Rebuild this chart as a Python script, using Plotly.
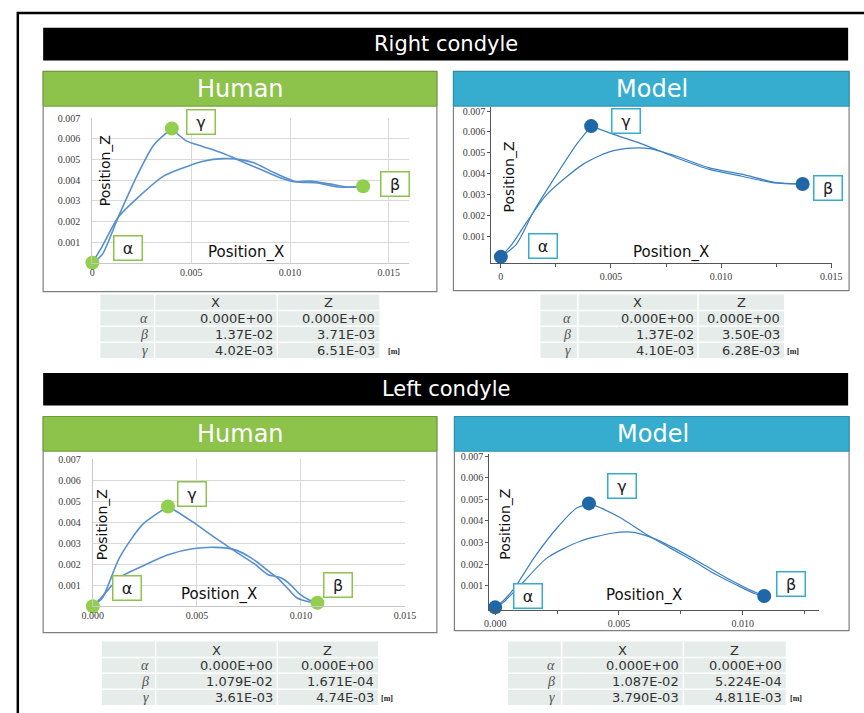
import plotly.graph_objects as go

W, H = 864, 713


def px(x):
    return x / W


def py(y):
    return 1 - y / H


# ---------------- condyle trajectories (metres) ----------------
# Right condyle, human: rise alpha->gamma, fall gamma->beta, return beta->alpha
rc_h_rise_x = [0.0, 0.0005, 0.0013, 0.0023, 0.0031, 0.00402]
rc_h_rise_z = [0.0, 0.0004, 0.0022, 0.0043, 0.0057, 0.00651]
rc_h_fall_x = [0.00402, 0.00475, 0.00557, 0.00656, 0.00754, 0.00852, 0.0095, 0.01017, 0.01099, 0.01214, 0.01296, 0.0137]
rc_h_fall_z = [0.00651, 0.00591, 0.00564, 0.00532, 0.00492, 0.00452, 0.00412, 0.00393, 0.00396, 0.0038, 0.00366, 0.00371]
rc_h_back_x = [0.0137, 0.0125, 0.0113, 0.0103, 0.0092, 0.0082, 0.0075, 0.0066, 0.0056, 0.0048, 0.0036, 0.0023, 0.0013, 0.0005, 0.0]
rc_h_back_z = [0.00371, 0.00367, 0.00388, 0.00393, 0.00436, 0.00484, 0.005, 0.00505, 0.00492, 0.00467, 0.0042, 0.00316, 0.0022, 0.0008, 0.0]

# Right condyle, model
rc_m_rise_x = [0.0, 0.0007, 0.0015, 0.00253, 0.00342, 0.0041]
rc_m_rise_z = [0.0, 0.0006, 0.0022, 0.00395, 0.00538, 0.00628]
rc_m_fall_x = [0.0041, 0.00519, 0.00652, 0.00799, 0.00947, 0.01094, 0.01242, 0.0137]
rc_m_fall_z = [0.00628, 0.00586, 0.00538, 0.00475, 0.0042, 0.00387, 0.00355, 0.0035]
rc_m_back_x = [0.0137, 0.01242, 0.01094, 0.00947, 0.00799, 0.00681, 0.00592, 0.00489, 0.00371, 0.00209, 0.00121, 0.0005, 0.0]
rc_m_back_z = [0.0035, 0.00358, 0.00397, 0.00427, 0.00483, 0.00519, 0.00522, 0.00503, 0.00443, 0.003, 0.00173, 0.0006, 0.0]

# Left condyle, human
lc_h_rise_x = [0.0, 0.00046, 0.00127, 0.00237, 0.00361]
lc_h_rise_z = [0.0, 0.0004, 0.00229, 0.00387, 0.00474]
lc_h_fall_x = [0.00361, 0.00387, 0.00478, 0.0059, 0.00684, 0.00777, 0.0084, 0.00902, 0.00949, 0.00996, 0.01043, 0.01079]
lc_h_fall_z = [0.00474, 0.0046, 0.00402, 0.00324, 0.00261, 0.00201, 0.00151, 0.00135, 0.00103, 0.00056, 0.00028, 0.00017]
lc_h_back_x = [0.01079, 0.01043, 0.0098, 0.00933, 0.00887, 0.0084, 0.00762, 0.00684, 0.0059, 0.00478, 0.00362, 0.00237, 0.00127, 0.0004, 0.0]
lc_h_back_z = [0.00017, 0.0002, 0.0004, 0.00088, 0.00135, 0.0017, 0.00229, 0.00268, 0.0028, 0.00273, 0.00245, 0.0019, 0.00135, 0.0004, 0.0]

# Left condyle, model
lc_m_rise_x = [0.0, 0.00032, 0.00079, 0.00157, 0.00249, 0.00328, 0.00379]
lc_m_rise_z = [0.0, 0.0003, 0.00091, 0.00229, 0.00366, 0.00458, 0.00481]
lc_m_fall_x = [0.00379, 0.00431, 0.0051, 0.00603, 0.00708, 0.00813, 0.00892, 0.00971, 0.0105, 0.01087]
lc_m_fall_z = [0.00481, 0.00458, 0.00412, 0.00343, 0.00274, 0.00206, 0.00152, 0.00106, 0.00063, 0.00052]
lc_m_back_x = [0.01087, 0.01024, 0.00932, 0.0084, 0.00735, 0.0063, 0.0055, 0.00472, 0.00341, 0.0021, 0.00105, 0.0003, 0.0]
lc_m_back_z = [0.00052, 0.00084, 0.00138, 0.00199, 0.00267, 0.00324, 0.00348, 0.00343, 0.00305, 0.00229, 0.00106, 0.0002, 0.0]

# ---------------- key points (tables) ----------------
point_names = ["α", "β", "γ"]
rc_h_X = ["0.000E+00", "1.37E-02", "4.02E-03"]
rc_h_Z = ["0.000E+00", "3.71E-03", "6.51E-03"]
rc_m_X = ["0.000E+00", "1.37E-02", "4.10E-03"]
rc_m_Z = ["0.000E+00", "3.50E-03", "6.28E-03"]
lc_h_X = ["0.000E+00", "1.079E-02", "3.61E-03"]
lc_h_Z = ["0.000E+00", "1.671E-04", "4.74E-03"]
lc_m_X = ["0.000E+00", "1.087E-02", "3.790E-03"]
lc_m_Z = ["0.000E+00", "5.224E-04", "4.811E-03"]

# ---------------- tick labels ----------------
y_tickvals = [0.001, 0.002, 0.003, 0.004, 0.005, 0.006, 0.007]
y_ticktext = ["0.001", "0.002", "0.003", "0.004", "0.005", "0.006", "0.007"]
x_tickvals = [0.0, 0.005, 0.010, 0.015]
x_ticktext_rc = ["0", "0.005", "0.010", "0.015"]
x_ticktext_lc = ["0.000", "0.005", "0.010", "0.015"]

GREEN = "#8dc24b"
GREEN_DARK = "#6e9c36"
BLUE = "#36adcf"
BLUE_DARK = "#2b8fae"
H_LINE = "#5790d0"
M_LINE = "#3b80c2"
H_MARK = "#92cf4f"
M_MARK = "#1f67a6"
TABLE_BG = "#e6ece9"
SANS = "DejaVu Sans"
SERIF = "Liberation Serif"

fig = go.Figure()

panels = [
    dict(ax="", kind="h", rise=(rc_h_rise_x, rc_h_rise_z), fall=(rc_h_fall_x, rc_h_fall_z),
         back=(rc_h_back_x, rc_h_back_z), X=rc_h_X, Z=rc_h_Z),
    dict(ax="2", kind="m", rise=(rc_m_rise_x, rc_m_rise_z), fall=(rc_m_fall_x, rc_m_fall_z),
         back=(rc_m_back_x, rc_m_back_z), X=rc_m_X, Z=rc_m_Z),
    dict(ax="3", kind="h", rise=(lc_h_rise_x, lc_h_rise_z), fall=(lc_h_fall_x, lc_h_fall_z),
         back=(lc_h_back_x, lc_h_back_z), X=lc_h_X, Z=lc_h_Z),
    dict(ax="4", kind="m", rise=(lc_m_rise_x, lc_m_rise_z), fall=(lc_m_fall_x, lc_m_fall_z),
         back=(lc_m_back_x, lc_m_back_z), X=lc_m_X, Z=lc_m_Z),
]

for p in panels:
    human = p["kind"] == "h"
    lc = H_LINE if human else M_LINE
    lw = 1.6 if human else 1.2
    for seg in ("rise", "fall", "back"):
        sx, sz = p[seg]
        fig.add_trace(go.Scatter(
            x=sx, y=sz, mode="lines", xaxis="x" + p["ax"], yaxis="y" + p["ax"],
            line=dict(color=lc, width=lw, shape="spline", smoothing=0.7),
            hoverinfo="skip", showlegend=False))
    fig.add_trace(go.Scatter(
        x=[float(v) for v in p["X"]], y=[float(v) for v in p["Z"]],
        mode="markers", xaxis="x" + p["ax"], yaxis="y" + p["ax"], cliponaxis=False,
        marker=dict(size=14, color=H_MARK if human else M_MARK, line=dict(width=0)),
        showlegend=False, hoverinfo="skip"))

tickfont = dict(family=SERIF, size=10, color="#404040")


def human_axes(xdom, ydom, xrange, xtext):
    xa = dict(domain=xdom, range=xrange, tickvals=x_tickvals, ticktext=xtext,
              showgrid=True, gridcolor="#d9d9d9", gridwidth=1, zeroline=False,
              showline=True, linecolor="#c8c8c8", linewidth=1, ticks="",
              tickfont=tickfont, fixedrange=True)
    ya = dict(domain=ydom, range=[0, 0.007], tickvals=y_tickvals, ticktext=y_ticktext,
              showgrid=True, gridcolor="#d9d9d9", gridwidth=1, zeroline=False,
              showline=True, linecolor="#c8c8c8", linewidth=1,
              ticks="outside", ticklen=9, tickcolor="rgba(0,0,0,0)",
              tickfont=tickfont, fixedrange=True)
    return xa, ya


def model_axes(xdom, ydom, xrange, yrange, xtext):
    xa = dict(domain=xdom, range=xrange, tickvals=x_tickvals, ticktext=xtext,
              showgrid=False, zeroline=False, showline=True, linecolor="#555555",
              linewidth=1, ticks="outside", ticklen=4, tickcolor="#555555",
              minor=dict(ticks="outside", ticklen=3, dtick=0.0025, tickcolor="#555555"),
              tickfont=tickfont, fixedrange=True)
    ya = dict(domain=ydom, range=yrange, tickvals=y_tickvals, ticktext=y_ticktext,
              showgrid=False, zeroline=False, showline=True, linecolor="#555555",
              linewidth=1, ticks="outside", ticklen=3, tickcolor="#555555",
              tickfont=tickfont, fixedrange=True)
    return xa, ya


xa1, ya1 = human_axes([px(83.5), px(408)], [py(259), py(113.3)], [0, 0.016], x_ticktext_rc)
xa2, ya2 = model_axes([px(492.7), px(842.8)], [py(259), py(101.8)], [-0.00044, 0.01505],
                      [-0.000286, 0.0072], x_ticktext_rc)
xa3, ya3 = human_axes([px(84), px(404.3)], [py(605.3), py(456.9)], [0, 0.015], x_ticktext_lc)
xa4, ya4 = model_axes([px(490.7), px(829.5)], [py(609.3), py(451.7)], [-0.00024, 0.0131],
                      [-0.00013, 0.0071], x_ticktext_lc)
for a, n in ((xa1, "y"), (xa2, "y2"), (xa3, "y3"), (xa4, "y4")):
    a["anchor"] = n
for a, n in ((ya1, "x"), (ya2, "x2"), (ya3, "x3"), (ya4, "x4")):
    a["anchor"] = n

shapes = []
annotations = []


def rect(x0, y0, x1, y1, fill=None, line=None, lw=1.0):
    shapes.append(dict(type="rect", xref="paper", yref="paper",
                       x0=px(x0), x1=px(x1), y0=py(y1), y1=py(y0),
                       fillcolor=fill if fill else "rgba(0,0,0,0)",
                       line=dict(color=line if line else "rgba(0,0,0,0)", width=lw if line else 0),
                       layer="below"))


def seg(x0, y0, x1, y1, color, lw):
    shapes.append(dict(type="line", xref="paper", yref="paper",
                       x0=px(x0), x1=px(x1), y0=py(y0), y1=py(y1),
                       line=dict(color=color, width=lw), layer="below"))


def text(x, y, s, size, color, family=SANS, xanchor="center", **kw):
    annotations.append(dict(xref="paper", yref="paper", x=px(x), y=py(y), text=s,
                            showarrow=False, xanchor=xanchor, yanchor="middle",
                            font=dict(family=family, size=size, color=color), **kw))


# outer frame
rect(7, 7, 880, 730, line="#000000", lw=2.5)

# section title bars
for top, title in ((22, "Right condyle"), (370, "Left condyle")):
    rect(33, top, 859, top + 33, fill="#000000")
    text(446, top + 16.5, title, 21, "#ffffff")

# chart panels: (x0, y0, x1, y1, header text, fill, edge)
panel_boxes = [
    (33, 66, 437, 288, "Human", GREEN, GREEN_DARK),
    (454, 66, 860, 287, "Model", BLUE, BLUE_DARK),
    (33, 414, 437, 632, "Human", GREEN, GREEN_DARK),
    (455, 414, 860, 630, "Model", BLUE, BLUE_DARK),
]
for x0, y0, x1, y1, name, fill, edge in panel_boxes:
    rect(x0, y0, x1, y1, fill="#ffffff", line="#7f7f7f", lw=1.2)
    rect(x0, y0, x1, y0 + 35, fill=fill, line=edge, lw=1)
    text((x0 + x1) / 2 + 1, y0 + 17.5, name, 24, "#ffffff")

# axis titles
axis_titles = [
    ((241, 249), (96, 166)),
    ((677, 249), (511, 172)),
    ((213, 593), (93, 523)),
    ((650, 594), (507, 523)),
]
for (xx, xy), (zx, zy) in axis_titles:
    text(xx, xy, "Position_X", 15, "#111111")
    text(zx, zy, "Position_Z", 14, "#111111", textangle=-90)

# labelled boxes next to the key points: centres per panel in order alpha, beta, gamma
label_boxes = [
    ([(119.7, 244.3), (394.3, 180), (195, 116.8)], GREEN),
    ([(546.3, 242.5), (838.7, 183.8), (630.8, 116.3)], BLUE),
    ([(118.7, 587.2), (335.8, 584), (186.2, 492.2)], GREEN),
    ([(530.3, 595.5), (800, 582.5), (626.7, 483.8)], BLUE),
]
for centres, col in label_boxes:
    for (cx, cy), name in zip(centres, point_names):
        annotations.append(dict(xref="paper", yref="paper", x=px(cx), y=py(cy), text=name,
                                showarrow=False, xanchor="center", yanchor="middle",
                                width=25, height=21, borderpad=1, bgcolor="#ffffff",
                                bordercolor=col, borderwidth=1.5,
                                font=dict(family=SANS, size=16, color="#222222")))

# coordinate tables: left, label/X split, X/Z split, right, top, unit-label x
tables = [
    (91.7, 147.3, 273.3, 378, 291, 393.5, rc_h_X, rc_h_Z),
    (543.3, 581.7, 705, 793.3, 291, 802, rc_m_X, rc_m_Z),
    (93.3, 148.3, 273.3, 376.7, 641, 386, lc_h_X, lc_h_Z),
    (510, 565, 690, 795, 641, 806, lc_m_X, lc_m_Z),
]
ROW = 16
for left, c1, c2, right, top, unit_x, xs, zs in tables:
    bottom = top + 4 * ROW
    rect(left, top, right, bottom, fill=TABLE_BG)
    for r in range(1, 4):
        seg(left, top + r * ROW, right, top + r * ROW, "#ffffff", 1.5)
    seg(c1, top, c1, bottom, "#ffffff", 1.5)
    seg(c2, top, c2, bottom, "#ffffff", 1.5)
    text((c1 + c2) / 2, top + ROW / 2 + 0.5, "X", 13, "#333333")
    text((c2 + right) / 2, top + ROW / 2 + 0.5, "Z", 13, "#333333")
    for i, name in enumerate(point_names):
        yc = top + (i + 1.5) * ROW + 0.5
        text(c1 - 5, yc, "<i>" + name + "</i>", 14, "#555555", family=SERIF, xanchor="right")
        text(c2 - 2, yc, xs[i], 13, "#333333", xanchor="right")
        text(right - 2, yc, zs[i], 13, "#333333", xanchor="right")
    text(unit_x, top + 3.5 * ROW + 1, "<b>[m]</b>", 8, "#222222", family=SERIF)

fig.update_layout(
    width=W, height=H, margin=dict(l=0, r=0, t=0, b=0),
    paper_bgcolor="#ffffff", plot_bgcolor="rgba(0,0,0,0)",
    xaxis=xa1, yaxis=ya1, xaxis2=xa2, yaxis2=ya2,
    xaxis3=xa3, yaxis3=ya3, xaxis4=xa4, yaxis4=ya4,
    shapes=shapes, annotations=annotations, showlegend=False,
)

# the page body keeps no default margin so the figure fills the window exactly
fig.write_html("out.html",
               post_script="document.body.style.margin='0';document.body.style.overflow='hidden';")
